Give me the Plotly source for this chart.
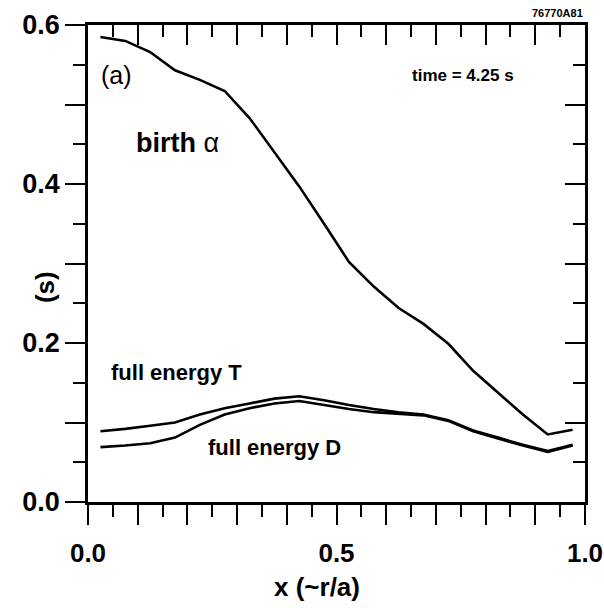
import plotly.graph_objects as go

# radial coordinate x (~r/a)
x_vals = [0.025, 0.075, 0.125, 0.175, 0.225, 0.275, 0.325, 0.375, 0.425, 0.475,
          0.525, 0.575, 0.625, 0.675, 0.725, 0.775, 0.825, 0.875, 0.925, 0.975]

# slowing-down times (s)
birth_alpha = [0.585, 0.580, 0.566, 0.543, 0.531, 0.517, 0.483, 0.440, 0.397, 0.350,
               0.302, 0.271, 0.244, 0.224, 0.199, 0.165, 0.137, 0.110, 0.085, 0.091]
full_energy_T = [0.089, 0.092, 0.096, 0.100, 0.110, 0.118, 0.124, 0.130, 0.133, 0.128,
                 0.122, 0.117, 0.113, 0.110, 0.103, 0.090, 0.081, 0.072, 0.064, 0.072]
full_energy_D = [0.069, 0.071, 0.074, 0.081, 0.097, 0.110, 0.118, 0.124, 0.127, 0.122,
                 0.117, 0.113, 0.111, 0.109, 0.102, 0.089, 0.080, 0.071, 0.063, 0.071]

x_ticks = [0.0, 0.1, 0.2, 0.3, 0.4, 0.5, 0.6, 0.7, 0.8, 0.9, 1.0]
x_ticktext = ["0.0", "", "", "", "", "0.5", "", "", "", "", "1.0"]
x_minor = [0.05, 0.15, 0.25, 0.35, 0.45, 0.55, 0.65, 0.75, 0.85, 0.95]
y_ticks = [0.0, 0.1, 0.2, 0.3, 0.4, 0.5, 0.6]
y_ticktext = ["0.0", "", "0.2", "", "0.4", "", "0.6"]
y_minor = [0.05, 0.15, 0.25, 0.35, 0.45, 0.55]

FONT = "Liberation Sans"
LINE = dict(color="black", width=2.6)

fig = go.Figure()
for ys in (birth_alpha, full_energy_T, full_energy_D):
    fig.add_trace(go.Scatter(x=x_vals, y=ys, mode="lines", line=LINE,
                             showlegend=False, hoverinfo="skip"))

# empty traces so the mirrored top / right frame axes get drawn
fig.add_trace(go.Scatter(x=[], y=[], xaxis="x2", yaxis="y", showlegend=False))
fig.add_trace(go.Scatter(x=[], y=[], xaxis="x", yaxis="y2", showlegend=False))


def tick_font(size):
    return dict(family=FONT, size=size, color="black", weight="bold")


def frame_axis(vals, minor_vals, rng, ticks, **extra):
    d = dict(range=rng, tickvals=vals, ticks=ticks, ticklen=20, tickwidth=2.2,
             tickcolor="black",
             minor=dict(tickvals=minor_vals, ticks=ticks, ticklen=12,
                        tickwidth=2.2, tickcolor="black", showgrid=False),
             showline=True, linewidth=2.6, linecolor="black",
             showgrid=False, zeroline=False, automargin=False)
    d.update(extra)
    return d


fig.update_layout(
    width=604, height=608,
    margin=dict(l=88, r=19, t=25, b=106),
    paper_bgcolor="white", plot_bgcolor="white",
    font=dict(family=FONT, color="black"),
    xaxis=frame_axis(x_ticks, x_minor, [0, 1], "outside",
                     ticktext=x_ticktext, tickfont=tick_font(26),
                     ticklabelstandoff=6, ticklabeloverflow="allow"),
    yaxis=frame_axis(y_ticks, y_minor, [0, 0.6], "outside",
                     ticktext=y_ticktext, tickfont=tick_font(27),
                     ticklabeloverflow="allow"),
    xaxis2=frame_axis(x_ticks, x_minor, [0, 1], "inside",
                      overlaying="x", side="top", anchor="y",
                      showticklabels=False),
    yaxis2=frame_axis(y_ticks, y_minor, [0, 0.6], "inside",
                      overlaying="y", side="right", anchor="x",
                      showticklabels=False),
)

# axis titles
fig.add_annotation(text="<b>x (~r/a)</b>", xref="paper", yref="paper",
                   x=0.46, y=-0.179, xanchor="center", yanchor="middle",
                   showarrow=False, font=dict(family=FONT, size=26))
fig.add_annotation(text="<b>(s)</b>", xref="paper", yref="paper",
                   x=-0.085, y=0.45, xanchor="center", yanchor="middle",
                   textangle=-90, showarrow=False, font=dict(family=FONT, size=26))

# in-plot labels
fig.add_annotation(text="(a)", x=0.058, y=0.537, xref="x", yref="y",
                   showarrow=False, font=dict(family=FONT, size=25))
fig.add_annotation(text="<b>time = 4.25 s</b>", x=0.755, y=0.537, xref="x", yref="y",
                   showarrow=False, font=dict(family=FONT, size=17))
fig.add_annotation(text="<b>birth</b> α", x=0.18, y=0.452, xref="x", yref="y",
                   showarrow=False, font=dict(family=FONT, size=27))
fig.add_annotation(text="<b>full energy T</b>", x=0.179, y=0.163, xref="x", yref="y",
                   showarrow=False, font=dict(family=FONT, size=22))
fig.add_annotation(text="<b>full energy D</b>", x=0.375, y=0.0685, xref="x", yref="y",
                   showarrow=False, font=dict(family=FONT, size=22))
fig.add_annotation(text="<b>76770A81</b>", xref="paper", yref="paper",
                   x=1.0, y=1.0, xanchor="right", yanchor="bottom", yshift=4,
                   showarrow=False, font=dict(family=FONT, size=11))

fig.write_html("out.html")
